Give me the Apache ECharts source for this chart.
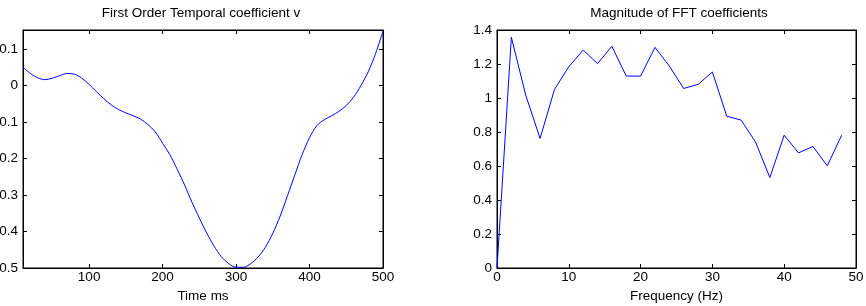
<!DOCTYPE html>
<html>
<head>
<meta charset="utf-8">
<script src="https://cdn.jsdelivr.net/npm/echarts@6/dist/echarts.min.js"></script>
<style>
  html, body { margin: 0; padding: 0; background: #fff; }
  #chart { width: 866px; height: 306px; }
</style>
</head>
<body>
<div id="chart"></div>
<script>
// Två paneler i Matlab-stil: tidsförlopp (vänster) och FFT-magnitud (höger).
const TIME_MS = [10, 20, 30, 40, 50, 60, 70, 80, 90, 100,
  110, 120, 130, 140, 150, 160, 170, 180, 190, 200,
  210, 220, 230, 240, 250, 260, 270, 280, 290, 300,
  310, 320, 330, 340, 350, 360, 370, 380, 390, 400,
  410, 420, 430, 440, 450, 460, 470, 480, 490, 500]
const COEF_V = [0.050, 0.033, 0.021, 0.016, 0.020, 0.027, 0.033, 0.031, 0.020, 0.003,
  -0.017, -0.036, -0.053, -0.066, -0.075, -0.083, -0.092, -0.107, -0.127, -0.158,
  -0.190, -0.230, -0.273, -0.320, -0.363, -0.404, -0.440, -0.469, -0.488, -0.498,
  -0.498, -0.488, -0.470, -0.443, -0.405, -0.358, -0.302, -0.245, -0.189, -0.143,
  -0.110, -0.094, -0.083, -0.071, -0.055, -0.032, 0.000, 0.038, 0.088, 0.149]
const FREQ_HZ = [0, 2, 4, 6, 8, 10, 12, 14, 16, 18, 20, 22, 24,
  26, 28, 30, 32, 34, 36, 38, 40, 42, 44, 46, 48]
const FFT_MAG = [0, 1.357, 1.017, 0.762, 1.050, 1.184, 1.282, 1.202, 1.304, 1.129, 1.129, 1.298, 1.188,
  1.056, 1.080, 1.153, 0.893, 0.870, 0.742, 0.532, 0.781, 0.677, 0.715, 0.601, 0.781]
const TIME_TICKS = [100, 200, 300, 400, 500]
const V_TICKS = [-0.5, -0.4, -0.3, -0.2, -0.1, 0, 0.1]

const FONT = 'Liberation Sans, Arial, sans-serif'
const TXT = { color: '#000', fontFamily: FONT, fontSize: 13.5 }
const LINE = { show: true, onZero: false, lineStyle: { color: '#000', width: 1 } }

function axis(o) {
  const ticks = o.ticks
  const a = {
    type: 'value', gridIndex: o.grid, position: o.pos, min: o.min, max: o.max,
    axisLine: LINE, splitLine: { show: false },
    axisTick: { show: true, inside: true, length: 4, lineStyle: { color: '#000' } },
    axisLabel: Object.assign({ show: o.labels, margin: o.margin }, TXT)
  }
  if (o.interval != null) a.interval = o.interval
  if (ticks) { a.axisTick.customValues = ticks; a.axisLabel.customValues = ticks }
  if (o.name) Object.assign(a, { name: o.name, nameLocation: 'middle', nameGap: o.nameGap, nameTextStyle: TXT })
  return a
}

const chart = echarts.init(document.getElementById('chart'), null, { renderer: 'canvas' })
chart.setOption({
  animation: false,
  title: [
    { text: 'First Order Temporal coefficient v', left: 201, top: 6, padding: 0, textAlign: 'center',
      textStyle: Object.assign({}, TXT, { fontWeight: 'normal' }) },
    { text: 'Magnitude of FFT coefficients', left: 679, top: 6, padding: 0, textAlign: 'center',
      textStyle: Object.assign({}, TXT, { fontWeight: 'normal' }) }
  ],
  grid: [
    { left: 23, right: 483, top: 30, bottom: 38, show: true, borderColor: '#000', borderWidth: 1,
      containLabel: false, outerBoundsMode: 'none' },
    { left: 497, right: 10, top: 30, bottom: 38, show: true, borderColor: '#000', borderWidth: 1,
      containLabel: false, outerBoundsMode: 'none' }
  ],
  xAxis: [
    axis({ grid: 0, pos: 'bottom', min: 10, max: 500, ticks: TIME_TICKS, labels: true, margin: 2,
      name: 'Time ms', nameGap: 21 }),
    axis({ grid: 0, pos: 'top', min: 10, max: 500, ticks: TIME_TICKS, labels: false }),
    axis({ grid: 1, pos: 'bottom', min: 0, max: 50, interval: 10, labels: true, margin: 2,
      name: 'Frequency (Hz)', nameGap: 21 }),
    axis({ grid: 1, pos: 'top', min: 0, max: 50, interval: 10, labels: false })
  ],
  yAxis: [
    axis({ grid: 0, pos: 'left', min: -0.5, max: 0.152, ticks: V_TICKS, labels: true, margin: 5 }),
    axis({ grid: 0, pos: 'right', min: -0.5, max: 0.152, ticks: V_TICKS, labels: false }),
    axis({ grid: 1, pos: 'left', min: 0, max: 1.4, interval: 0.2, labels: true, margin: 5 }),
    axis({ grid: 1, pos: 'right', min: 0, max: 1.4, interval: 0.2, labels: false })
  ],
  series: [
    { type: 'line', xAxisIndex: 0, yAxisIndex: 0, showSymbol: false, smooth: 0.3,
      lineStyle: { color: '#0000ff', width: 1 },
      data: TIME_MS.map((t, i) => [t, COEF_V[i]]) },
    { type: 'line', xAxisIndex: 2, yAxisIndex: 2, showSymbol: false,
      lineStyle: { color: '#0000ff', width: 1 },
      data: FREQ_HZ.map((f, i) => [f, FFT_MAG[i]]) }
  ]
})
</script>
</body>
</html>
